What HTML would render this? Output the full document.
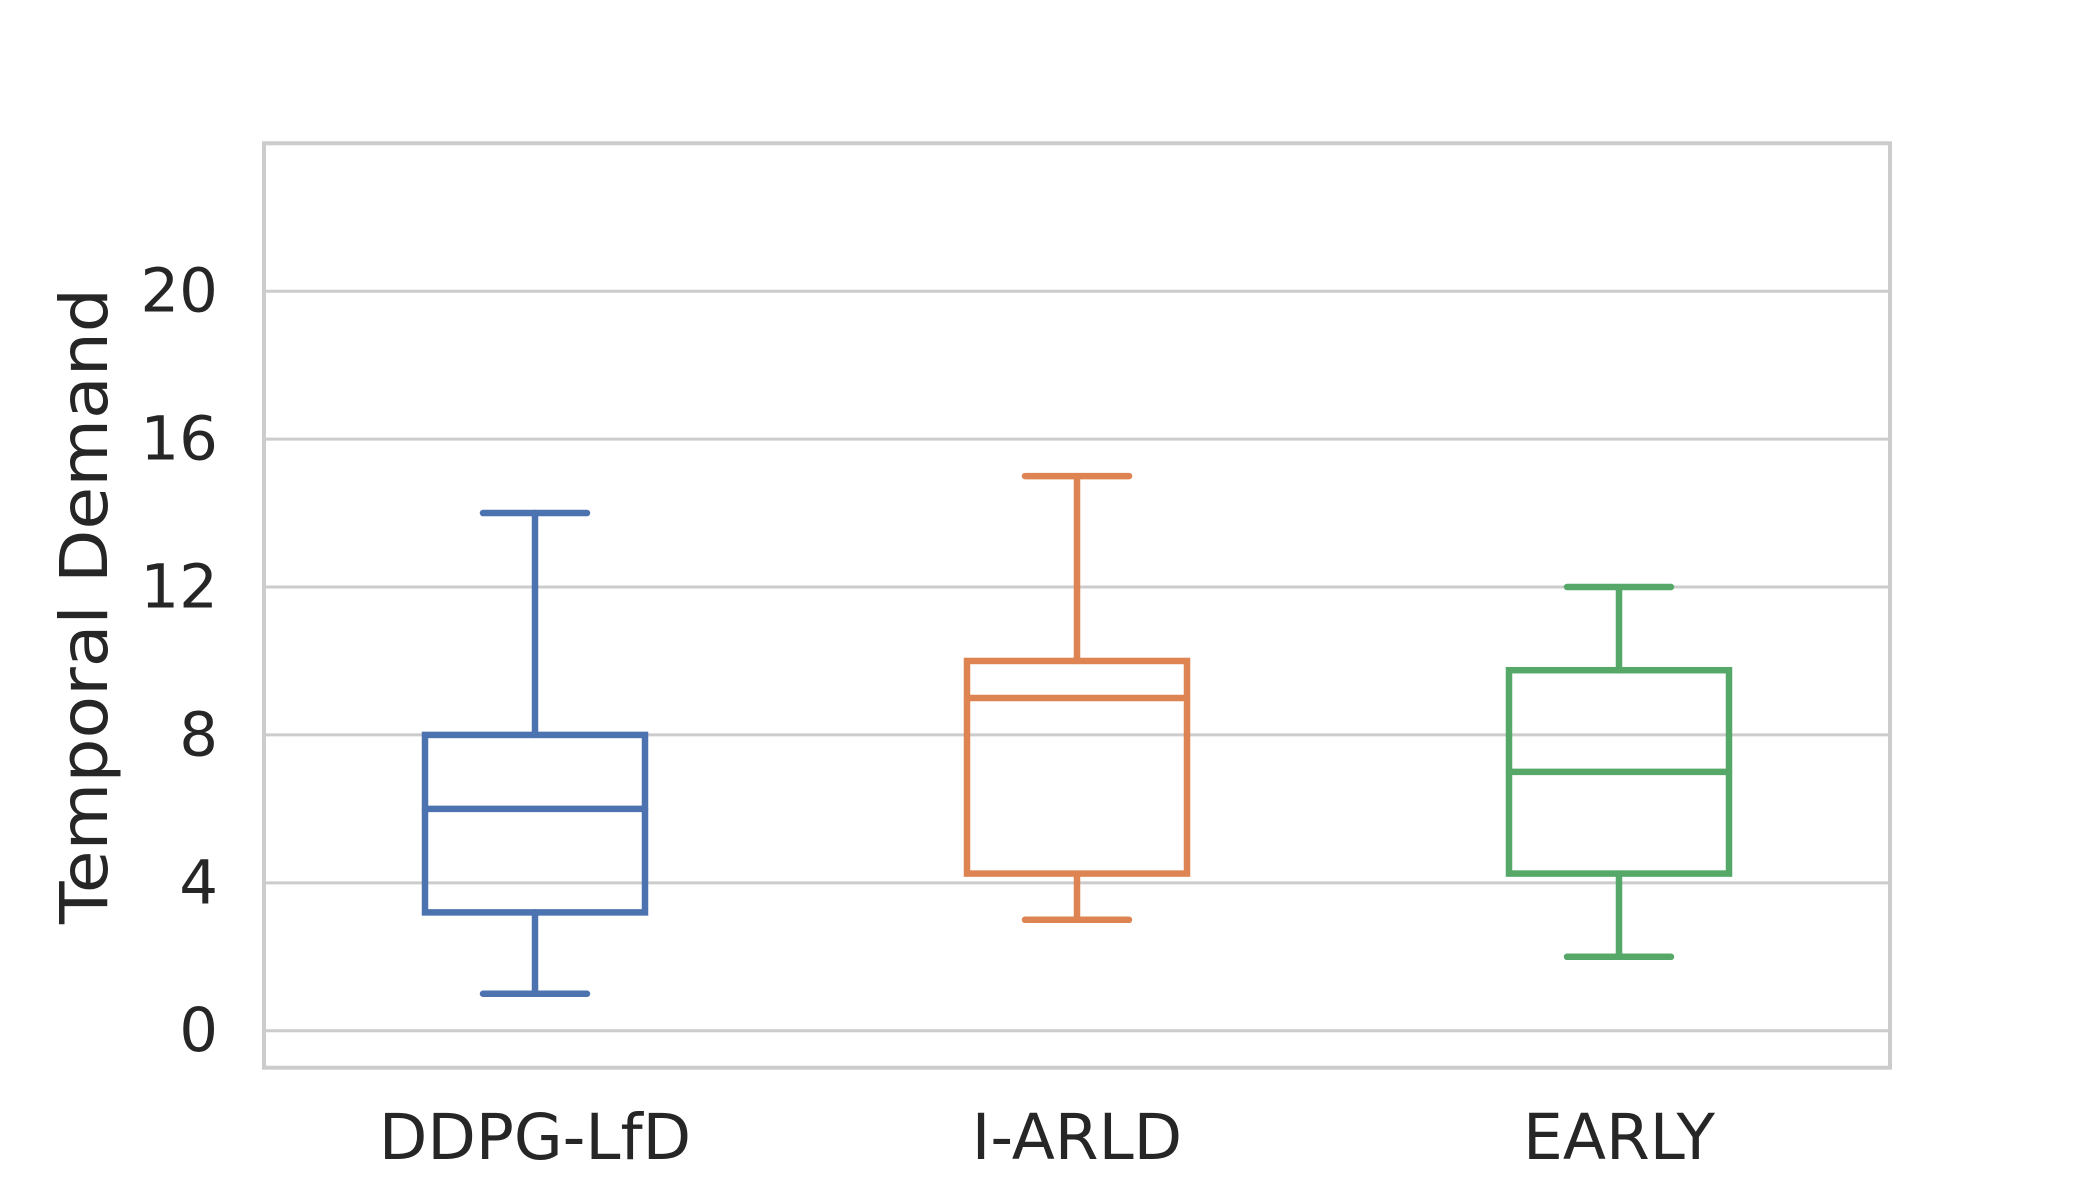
<!DOCTYPE html>
<html><head><meta charset="utf-8"><style>
html,body{margin:0;padding:0;background:#fff;}
svg{display:block;font-family:"DejaVu Sans","Liberation Sans",sans-serif;}
</style></head><body>
<svg id="chart" width="2100" height="1200" viewBox="0 0 2100 1200"></svg>
<script>
const categories = ["DDPG-LfD", "I-ARLD", "EARLY"];
const whiskerLow = [1, 3, 2];
const q1Values = [3.2, 4.25, 4.25];
const medianValues = [6, 9, 7];
const q3Values = [8, 10, 9.75];
const whiskerHigh = [14, 15, 12];
const yTicks = [0, 4, 8, 12, 16, 20];
const colors = ["#4c72b0", "#dd8452", "#55a868"];

const L = 264, R = 1890, T = 143.3, B = 1067.7;
const yMin = -1, yMax = 24;
const y = v => B - (v - yMin) / (yMax - yMin) * (B - T);
const band = (R - L) / categories.length;
const x = i => L + band * (i + 0.5);
const boxW = 220, capW = 104;
const NS = "http://www.w3.org/2000/svg";
const svg = document.getElementById("chart");
function mk(tag, attrs, parent) {
  const e = document.createElementNS(NS, tag);
  for (const k in attrs) e.setAttribute(k, attrs[k]);
  (parent || svg).appendChild(e);
  return e;
}
yTicks.forEach(t => {
  const g = mk("line", {x1: L, x2: R, y1: y(t), y2: y(t), stroke: "#cccccc", "stroke-width": 3});
  
  
  const tx = mk("text", {x: 218, y: y(t), "text-anchor": "end", "dominant-baseline": "central", "font-size": 61, fill: "#262626"});
  tx.textContent = t;
  
  
});
const fr = mk("rect", {x: L, y: T, width: R - L, height: B - T, fill: "none", stroke: "#cccccc", "stroke-width": 4});


categories.forEach((c, i) => {
  const g = mk("g", {stroke: colors[i], "stroke-width": 6.5, fill: "none", "stroke-linecap": "round"});
  
  
  const cx = x(i);
  mk("line", {x1: cx, x2: cx, y1: y(q3Values[i]), y2: y(whiskerHigh[i])}, g);
  mk("line", {x1: cx, x2: cx, y1: y(q1Values[i]), y2: y(whiskerLow[i])}, g);
  mk("line", {x1: cx - capW / 2, x2: cx + capW / 2, y1: y(whiskerHigh[i]), y2: y(whiskerHigh[i])}, g);
  mk("line", {x1: cx - capW / 2, x2: cx + capW / 2, y1: y(whiskerLow[i]), y2: y(whiskerLow[i])}, g);
  mk("rect", {x: cx - boxW / 2, y: y(q3Values[i]), width: boxW, height: y(q1Values[i]) - y(q3Values[i]), "stroke-linejoin": "miter"}, g);
  mk("line", {x1: cx - boxW / 2, x2: cx + boxW / 2, y1: y(medianValues[i]), y2: y(medianValues[i])}, g);
  const t = mk("text", {x: cx, y: 1159, "text-anchor": "middle", "font-size": 63, fill: "#262626"});
  t.textContent = c;
  
  
});
const yl = mk("text", {x: 0, y: 0, transform: "translate(107,606) rotate(-90)", "text-anchor": "middle", "font-size": 66, fill: "#262626", textLength: 636, lengthAdjust: "spacingAndGlyphs"});
yl.textContent = "Temporal Demand";


</script>
</body></html>
